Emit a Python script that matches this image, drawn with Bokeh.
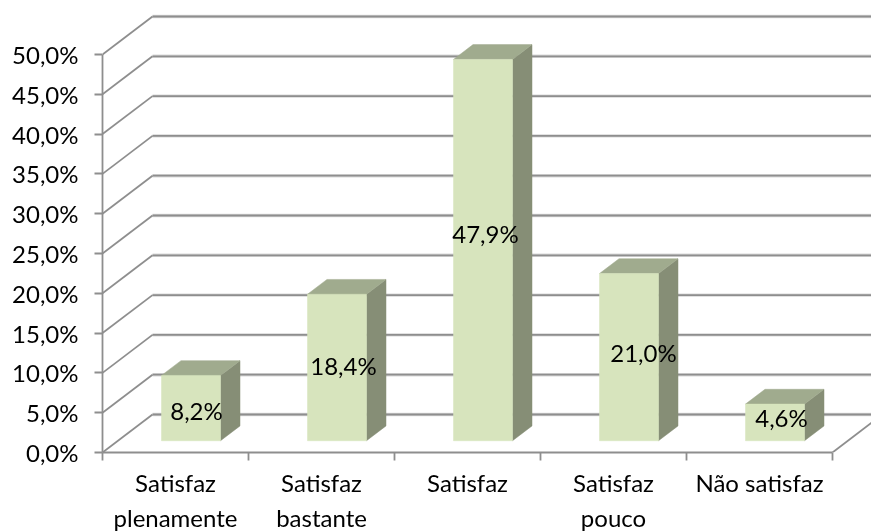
from bokeh.plotting import figure
from bokeh.embed import file_html
from bokeh.resources import INLINE
from bokeh.models import FixedTicker, LinearAxis, Range1d
from bokeh.core.properties import value

line1 = ["Satisfaz", "Satisfaz", "Satisfaz", "Satisfaz", "Não satisfaz"]
line2 = ["plenamente", "bastante", "", "pouco", ""]
values = [8.2, 18.4, 47.9, 21.0, 4.6]
texts = ["8,2%", "18,4%", "47,9%", "21,0%", "4,6%"]
y_ticks = [0, 5, 10, 15, 20, 25, 30, 35, 40, 45, 50]
y_labels = {t: f"{t},0%" for t in y_ticks}

# style / layout constants
FONT = "Lato"
FS = "24px"
PX_U, PX_V = 146.0, 7.96          # pixels per category / per percent
DEPTH_X, DEPTH_Y = 50 / PX_U, 38 / PX_V  # oblique projection of unit depth
BAR_W = 59 / PX_U
D0, D1 = 0.31, 0.70
label_dx = [5.5, 6.5, 2.5, 14.5, 6.5]
label_dy = [2.5, -2, -17, -5, -5]

def proj(u, v, d):
    return u + d * DEPTH_X, v + d * DEPTH_Y

p = figure(width=871, height=531, output_backend="svg", toolbar_location=None,
           x_range=Range1d(0, 769 / PX_U), y_range=Range1d(0, 452 / PX_V),
           min_border_left=102, min_border_right=0, min_border_top=0, min_border_bottom=0,
           frame_width=769, frame_height=452,
           outline_line_color=None, background_fill_color="white", border_fill_color="white")
p.styles = {"position": "fixed", "left": "0px", "top": "0px"}
p.grid.visible = False

GRID = "#8e8e8e"
gx, gy, dx, dy = [], [], [], []
for t in y_ticks:
    a = proj(0, t, 1)
    gx.append([a[0], a[0] + 5.5]); gy.append([a[1], a[1]])
    dx.append([0, a[0]]); dy.append([t, a[1]])
b = proj(5, 0, 1)
p.multi_line(gx, gy, line_color="#d9d9d9", line_width=3.4)
p.multi_line(gx, gy, line_color=GRID, line_width=1.8)
p.multi_line(dx, dy, line_color=GRID, line_width=1.8)
p.line([5, b[0]], [0, b[1]], line_color=GRID, line_width=1.8)

fx, fy, tx, ty, sx, sy = [], [], [], [], [], []
cx, cy = [], []
for i, val in enumerate(values):
    l = i + 0.5 - BAR_W / 2
    r = i + 0.5 + BAR_W / 2
    corners = [proj(l, 0, D0), proj(r, 0, D0), proj(r, val, D0), proj(l, val, D0)]
    fx.append([c[0] for c in corners]); fy.append([c[1] for c in corners])
    top = [proj(l, val, D0), proj(r, val, D0), proj(r, val, D1), proj(l, val, D1)]
    tx.append([c[0] for c in top]); ty.append([c[1] for c in top])
    side = [proj(r, 0, D0), proj(r, 0, D1), proj(r, val, D1), proj(r, val, D0)]
    sx.append([c[0] for c in side]); sy.append([c[1] for c in side])
    c = proj(i + 0.5, val / 2, D0)
    cx.append(c[0]); cy.append(c[1])
p.patches(sx, sy, fill_color="#868E76", line_color="#868E76", line_width=0.5)
p.patches(tx, ty, fill_color="#A0AB8E", line_color="#A0AB8E", line_width=0.5)
p.patches(fx, fy, fill_color="#D7E4BD", line_color="#D7E4BD", line_width=0.5)

p.text(cx, cy, text=texts, x_offset=label_dx, y_offset=label_dy, text_align="center",
       text_baseline="middle", text_font=value(FONT), text_font_size=FS, text_color="#000000")

yax = p.yaxis[0]
yax.ticker = FixedTicker(ticks=y_ticks)
yax.major_label_overrides = y_labels
yax.bounds = (0, 50)
xax = p.xaxis[0]
xax.ticker = FixedTicker(ticks=[0, 1, 2, 3, 4, 5])
xax.major_label_text_font_size = "0px"
xax.major_label_text_color = None
xax.bounds = (0, 5)
for ax in (xax, yax):
    ax.axis_line_color = GRID
    ax.axis_line_width = 1.8
    ax.major_tick_line_color = GRID
    ax.major_tick_line_width = 1.8
    ax.major_tick_out = 8
    ax.major_tick_in = 0
    ax.minor_tick_line_color = None
yax.major_label_standoff = 16
yax.major_label_text_font = FONT
yax.major_label_text_font_size = FS
yax.major_label_text_color = "#000000"

centres = [i + 0.5 for i in range(5)]
for names, standoff in ((line1, 7), (line2, 3)):
    ax = LinearAxis(ticker=FixedTicker(ticks=centres),
                    major_label_overrides={c: n for c, n in zip(centres, names)},
                    axis_line_color=None, major_tick_line_color=None, minor_tick_line_color=None,
                    major_tick_in=0, major_tick_out=0, major_label_standoff=standoff,
                    major_label_text_font=FONT, major_label_text_font_size=FS,
                    major_label_text_color="#000000")
    p.add_layout(ax, "below")

open("out.html", "w").write(file_html(p, INLINE))
